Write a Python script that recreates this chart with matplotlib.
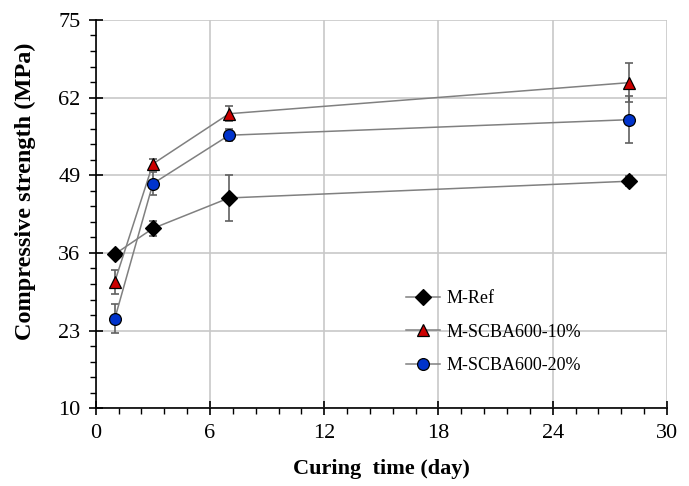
import matplotlib.pyplot as plt
from matplotlib.ticker import MultipleLocator

plt.rcParams['font.family'] = ['Liberation Serif', 'DejaVu Serif']

days = [1, 3, 7, 28]

ref = [35.8, 40.1, 45.2, 48.0]
ref_err = [0.6, 1.2, 3.9, 0.8]

scba10 = [31.2, 50.9, 59.3, 64.5]
scba10_err = [2.0, 0.8, 1.3, 3.3]

scba20 = [25.0, 47.6, 55.7, 58.3]
scba20_err = [2.4, 1.9, 1.0, 3.9]

fig = plt.figure(figsize=(6.89, 4.86), dpi=100)
ax = fig.add_axes([0.139, 0.160, 0.829, 0.799])

series = [
    (ref, ref_err, 'D', 'black', 8, 'M-Ref'),
    (scba10, scba10_err, '^', '#CC0000', 9, 'M-SCBA600-10%'),
    (scba20, scba20_err, 'o', '#0033CC', 8.5, 'M-SCBA600-20%'),
]
for vals, err, mk, col, ms, lab in series:
    ax.errorbar(days, vals, yerr=err, fmt='none', ecolor='#606060',
                elinewidth=1.2, capsize=3, capthick=1.2, zorder=2)
    ax.plot(days, vals, color='#808080', lw=1.1, marker=mk, ms=ms,
            mfc=col, mec='black', mew=0.9, label=lab, zorder=3)

ax.set_xlim(0, 30)
ax.set_ylim(10, 75)
ax.xaxis.set_major_locator(MultipleLocator(6))
ax.xaxis.set_minor_locator(MultipleLocator(1.2))
ax.yaxis.set_major_locator(MultipleLocator(13, offset=10))
ax.yaxis.set_minor_locator(MultipleLocator(2.6, offset=10))
ax.grid(True, which='major', color='#c8c8c8', lw=1.2)
ax.set_axisbelow(True)

ax.tick_params(which='major', direction='inout', length=10, width=1.2,
               labelsize=16, pad=6)
ax.tick_params(which='minor', direction='out', length=4, width=1)
for s in ['top', 'right']:
    ax.spines[s].set_visible(False)
for s in ['left', 'bottom']:
    ax.spines[s].set_linewidth(1.2)

ax.set_xlabel('Curing  time (day)', fontsize=16, fontweight='bold', labelpad=12)
ax.set_ylabel('Compressive strength (MPa)', fontsize=17.5, fontweight='bold')
ax.yaxis.set_label_coords(-0.105, 0.56)

ax.legend(loc='upper left', bbox_to_anchor=(0.53, 0.322), frameon=False,
          fontsize=13, handlelength=1.9, labelspacing=0.9, handletextpad=0.35,
          borderaxespad=0)

fig.savefig('out.png', dpi=100)
plt.close(fig)
